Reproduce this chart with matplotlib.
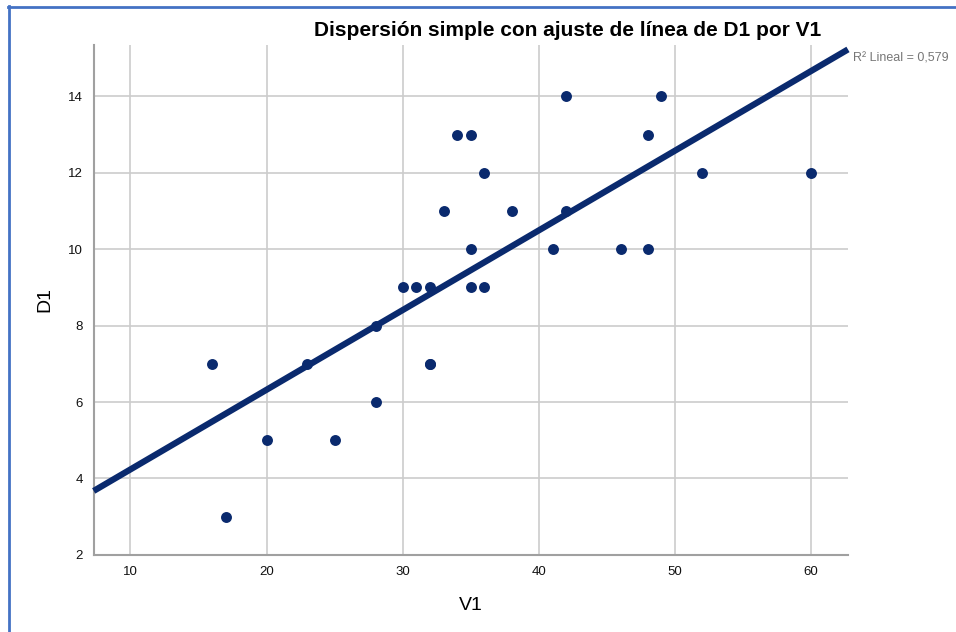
import matplotlib.pyplot as plt
import numpy as np

plt.rcParams['font.family'] = ['Liberation Sans', 'DejaVu Sans']

v1 = [16, 17, 20, 23, 25, 28, 28, 30, 31, 32, 32, 32, 33, 34, 35, 35, 35,
      36, 36, 38, 41, 42, 42, 46, 48, 48, 49, 52, 60]
d1 = [7, 3, 5, 7, 5, 8, 6, 9, 9, 9, 7, 7, 11, 13, 13, 10, 9,
      12, 9, 11, 10, 14, 11, 10, 13, 10, 14, 12, 12]
x_ticks = [10, 20, 30, 40, 50, 60]
y_ticks = [2, 4, 6, 8, 10, 12, 14]
r2_label = 'R² Lineal = 0,579'

navy = '#0a2a6e'

fig = plt.figure(figsize=(9.56, 6.32), dpi=100)
ax = fig.add_axes([0.098, 0.122, 0.789, 0.807])

ax.scatter(v1, d1, s=62, color=navy, zorder=3, linewidths=0)

# ajuste lineal
slope, inter = np.polyfit(v1, d1, 1)
xmin, xmax = 7.3, 62.7
xs = np.array([xmin, xmax])
ax.plot(xs, slope * xs + inter, color=navy, lw=4.5, solid_capstyle='butt', zorder=4, clip_on=False)

ax.set_xlim(xmin, xmax)
ax.set_ylim(2, 15.35)
ax.set_xticks(x_ticks)
ax.set_yticks(y_ticks)
ax.tick_params(length=0, labelsize=9.5, colors='#111111', pad=8)
ax.grid(True, color='#cccccc', lw=1.2)
ax.set_axisbelow(True)
for s in ['top', 'right']:
    ax.spines[s].set_visible(False)
for s in ['left', 'bottom']:
    ax.spines[s].set_color('#a0a0a0')
    ax.spines[s].set_linewidth(1.5)

ax.set_xlabel('V1', fontsize=14, labelpad=14)
ax.set_ylabel('D1', fontsize=14, labelpad=10)

fig.text(0.594, 0.951, 'Dispersión simple con ajuste de línea de D1 por V1',
         ha='center', va='center', fontsize=15, fontweight='bold')
fig.text(0.892, 0.907, r2_label,
         ha='left', va='center', fontsize=9, color='#777777')

# marco azul
fig.add_artist(plt.Line2D([0.009, 0.009], [0, 0.99], color='#4472c4', lw=2, transform=fig.transFigure))
fig.add_artist(plt.Line2D([0.008, 1], [0.989, 0.989], color='#4472c4', lw=2, transform=fig.transFigure))

fig.savefig('out.png', dpi=100)
